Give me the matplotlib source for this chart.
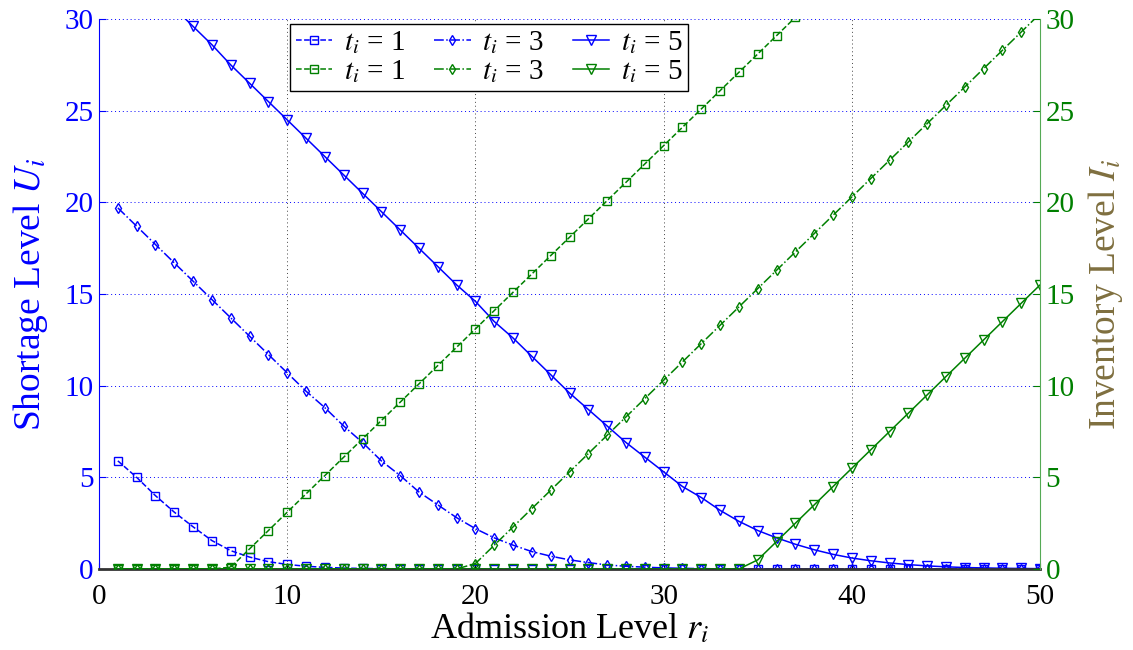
import matplotlib
matplotlib.use("Agg")
import matplotlib.pyplot as plt
import numpy as np

r = list(range(1, 51))

# Shortage level U_i (left axis)
U_t1 = [5.9, 5.0, 4.0, 3.1, 2.3, 1.55, 1.0, 0.65, 0.4, 0.25, 0.15, 0.09, 0.05, 0.03, 0.02,
        0.01, 0.0, 0.0, 0.0, 0.0, 0.0, 0.0, 0.0, 0.0, 0.0, 0.0, 0.0, 0.0, 0.0, 0.0,
        0.0, 0.0, 0.0, 0.0, 0.0, 0.0, 0.0, 0.0, 0.0, 0.0, 0.0, 0.0, 0.0, 0.0, 0.0,
        0.0, 0.0, 0.0, 0.0, 0.0]
U_t3 = [19.7, 18.7, 17.7, 16.7, 15.7, 14.7, 13.7, 12.7, 11.7, 10.7, 9.7, 8.8, 7.8, 6.9, 5.9,
        5.1, 4.2, 3.5, 2.8, 2.2, 1.7, 1.3, 0.95, 0.7, 0.5, 0.35, 0.22, 0.15, 0.1, 0.06,
        0.04, 0.02, 0.01, 0.0, 0.0, 0.0, 0.0, 0.0, 0.0, 0.0, 0.0, 0.0, 0.0, 0.0, 0.0,
        0.0, 0.0, 0.0, 0.0, 0.0]
U_t5 = [33.6, 32.6, 31.6, 30.6, 29.6, 28.6, 27.5, 26.5, 25.5, 24.5, 23.5, 22.5, 21.5, 20.5, 19.5,
        18.5, 17.5, 16.5, 15.5, 14.6, 13.5, 12.6, 11.6, 10.6, 9.6, 8.7, 7.8, 6.9, 6.1, 5.3,
        4.5, 3.9, 3.2, 2.6, 2.1, 1.7, 1.35, 1.05, 0.8, 0.6, 0.45, 0.33, 0.24, 0.17, 0.12,
        0.08, 0.06, 0.04, 0.03, 0.02]

# Inventory level I_i (right axis)
I_t1 = [0.0, 0.0, 0.0, 0.0, 0.0, 0.0, 0.1, 1.1, 2.1, 3.1, 4.1, 5.1, 6.1, 7.1, 8.1,
        9.1, 10.1, 11.1, 12.1, 13.1, 14.1, 15.1, 16.1, 17.1, 18.1, 19.1, 20.1, 21.1, 22.1, 23.1,
        24.1, 25.1, 26.1, 27.1, 28.1, 29.1, 30.1, 31.1, 32.1, 33.1, 34.1, 35.1, 36.1, 37.1, 38.1,
        39.1, 40.1, 41.1, 42.1, 43.1]
I_t3 = [0.0, 0.0, 0.0, 0.0, 0.0, 0.0, 0.0, 0.0, 0.0, 0.0, 0.0, 0.0, 0.0, 0.0, 0.0,
        0.0, 0.0, 0.0, 0.0, 0.3, 1.3, 2.3, 3.3, 4.3, 5.3, 6.3, 7.3, 8.3, 9.3, 10.3,
        11.3, 12.3, 13.3, 14.3, 15.3, 16.3, 17.3, 18.3, 19.3, 20.3, 21.3, 22.3, 23.3, 24.3, 25.3,
        26.3, 27.3, 28.3, 29.3, 30.3]
I_t5 = [0.0] * 34 + [0.5, 1.5, 2.5, 3.5, 4.5, 5.5, 6.5, 7.5, 8.5, 9.5, 10.5, 11.5, 12.5, 13.5, 14.5, 15.5]

labels = [r"$t_i$ = 1", r"$t_i$ = 3", r"$t_i$ = 5"]
xticks = [0, 10, 20, 30, 40, 50]
yticks = [0, 5, 10, 15, 20, 25, 30]

plt.rcParams['font.family'] = ['Liberation Serif', 'DejaVu Serif']
plt.rcParams['mathtext.fontset'] = 'stix'

BLUE = '#0000FF'
GREEN = '#008000'
OLIVE = '#7F6F3F'

fig = plt.figure(figsize=(11.33, 6.5), dpi=100)
ax = fig.add_axes([0.0874, 0.1246, 0.8306, 0.846])
ax2 = ax.twinx()

ms = 6
lw = 1.1
b1, = ax.plot(r, U_t1, color=BLUE, ls='--', marker='s', ms=ms, mfc='none', lw=lw, label=labels[0])
b3, = ax.plot(r, U_t3, color=BLUE, ls='-.', marker='d', ms=ms - 1, mfc='none', lw=lw, label=labels[1])
b5, = ax.plot(r, U_t5, color=BLUE, ls='-', marker='v', ms=ms + 1, mfc='none', lw=lw, label=labels[2])

g1, = ax2.plot(r, I_t1, color=GREEN, ls='--', marker='s', ms=ms, mfc='none', lw=lw, label=labels[0])
g3, = ax2.plot(r, I_t3, color=GREEN, ls='-.', marker='d', ms=ms - 1, mfc='none', lw=lw, label=labels[1])
g5, = ax2.plot(r, I_t5, color=GREEN, ls='-', marker='v', ms=ms + 1, mfc='none', lw=lw, label=labels[2])

ax.set_xlim(0, 50)
ax.set_ylim(0, 30)
ax2.set_ylim(0, 30)
ax.set_xticks(xticks)
ax.set_yticks(yticks)
ax2.set_yticks(yticks)

ax.tick_params(axis='x', colors='black', labelsize=21, direction='in', length=4, pad=11)
ax.tick_params(axis='y', colors=BLUE, labelcolor=BLUE, labelsize=21, direction='in', length=5, pad=4)
ax2.tick_params(axis='y', colors=GREEN, labelcolor=GREEN, labelsize=21, direction='in', length=5, pad=4)

ax.xaxis.grid(True, ls=(0, (1, 3)), color='#444444', lw=0.7)
ax.yaxis.grid(True, ls=(0, (1, 3)), color=BLUE, lw=0.7)

for a in (ax, ax2):
    a.spines['top'].set_visible(False)
ax.spines['left'].set_color(BLUE)
ax2.spines['left'].set_visible(False)
ax2.spines['right'].set_color('#55AA55')
ax.spines['right'].set_visible(False)
ax.spines['bottom'].set_color('#333333')
ax.spines['bottom'].set_linewidth(2)
ax2.spines['bottom'].set_visible(False)

ax.set_xlabel(r"Admission Level $r_i$", fontsize=26, labelpad=1)
ax.set_ylabel(r"Shortage Level $U_i$", fontsize=27, color=BLUE, labelpad=10)
ax2.set_ylabel(r"Inventory Level $I_i$", fontsize=27, color=OLIVE, labelpad=8)

leg = ax2.legend([b1, g1, b3, g3, b5, g5], [labels[0], labels[0], labels[1], labels[1], labels[2], labels[2]],
                 ncol=3, loc='upper left', bbox_to_anchor=(0.2, 0.997), fontsize=21,
                 frameon=True, fancybox=False, edgecolor='black', framealpha=1,
                 handlelength=1.25, handletextpad=0.4, columnspacing=1.0, borderpad=0.2,
                 labelspacing=0.05, borderaxespad=0.1)
leg.get_frame().set_linewidth(1.0)

fig.savefig('out.png', dpi=100)
